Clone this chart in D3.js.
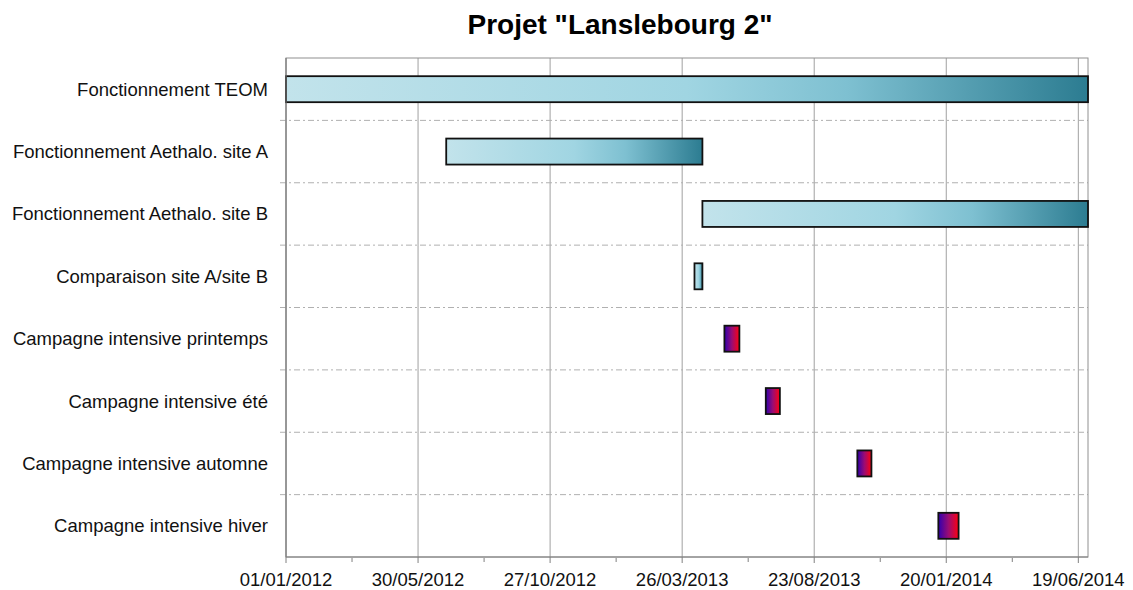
<!DOCTYPE html>
<html><head><meta charset="utf-8">
<script src="https://cdn.jsdelivr.net/npm/d3@7"></script>
<style>body{margin:0;background:#fff;}svg{display:block;font-family:"Liberation Sans",Arial,sans-serif;}</style>
</head><body><svg id="c" width="1133" height="590"></svg>
<script>
const title = 'Projet "Lanslebourg 2"';
const categories = ["Fonctionnement TEOM","Fonctionnement Aethalo. site A","Fonctionnement Aethalo. site B","Comparaison site A/site B","Campagne intensive printemps","Campagne intensive été","Campagne intensive automne","Campagne intensive hiver"];
const startDates = ["01/01/2012","01/07/2012","18/04/2013","09/04/2013","13/05/2013","29/06/2013","11/10/2013","11/01/2014"];
const endDates   = ["30/06/2014","18/04/2013","30/06/2014","18/04/2013","30/05/2013","15/07/2013","27/10/2013","03/02/2014"];
const palette    = ["blue","blue","blue","blue","red","red","red","red"];
const tickLabels = ["01/01/2012","30/05/2012","27/10/2012","26/03/2013","23/08/2013","20/01/2014","19/06/2014"];
const axisMin = "01/01/2012", axisMax = "30/06/2014";

const parse = d3.timeParse("%d/%m/%Y");
const svg = d3.select("#c");
const L=286, R=1088, T=58, B=557;

const x = d3.scaleTime().domain([parse(axisMin), parse(axisMax)]).range([L, R]);
const y = d3.scaleBand().domain(categories).range([T, B]).paddingInner(0).paddingOuter(0);

const defs = svg.append("defs");
const gb = defs.append("linearGradient").attr("id","gblue");
[[0,"#c2e3eb"],[0.5,"#a0d5e2"],[0.7,"#7ec0d1"],[1,"#2c7c91"]].forEach(s=>gb.append("stop").attr("offset",s[0]).attr("stop-color",s[1]));
const gr = defs.append("linearGradient").attr("id","gred");
[[0,"#3000b0"],[0.5,"#9a0c74"],[1,"#ff0010"]].forEach(s=>gr.append("stop").attr("offset",s[0]).attr("stop-color",s[1]));

// title
svg.append("text").attr("x",620).attr("y",34).attr("text-anchor","middle")
  .attr("font-size",28).attr("font-weight","bold").attr("fill","#000").text(title);

// vertical gridlines
const majors = tickLabels.map(parse);
svg.append("g").selectAll("line").data(majors).join("line")
  .attr("x1",d=>x(d)).attr("x2",d=>x(d)).attr("y1",T).attr("y2",B)
  .attr("stroke","#a0a0a0").attr("stroke-width",1);

// horizontal dash-dot separators
const seps = categories.slice(1).map(c=>y(c));
svg.append("g").selectAll("line").data(seps).join("line")
  .attr("x1",L-6).attr("x2",R).attr("y1",d=>d).attr("y2",d=>d)
  .attr("stroke","#b0b0b0").attr("stroke-width",1).attr("stroke-dasharray","6,3,2,3");

// plot frame
svg.append("rect").attr("x",L).attr("y",T).attr("width",R-L).attr("height",B-T)
  .attr("fill","none").attr("stroke","#909090").attr("stroke-width",1);

// bars
const bh = 26;
const rows = categories.map((c,i)=>({c, s:parse(startDates[i]), e:parse(endDates[i]), p:palette[i]}));
svg.append("g").selectAll("rect").data(rows).join("rect")
  .attr("x",d=>x(d.s)).attr("width",d=>x(d.e)-x(d.s))
  .attr("y",d=>y(d.c)+y.bandwidth()/2-bh/2).attr("height",bh)
  .attr("fill",d=>d.p==="blue"?"url(#gblue)":"url(#gred)")
  .attr("stroke","#111").attr("stroke-width",1.8);

// bottom axis
const minors = majors.slice(0,-1).map((d,i)=>new Date((+d + +majors[i+1])/2));
const ax = svg.append("g").attr("transform",`translate(0,${B})`);
ax.append("line").attr("x1",L).attr("x2",R).attr("stroke","#808080");
ax.selectAll(".mj").data(majors).join("line").attr("class","mj")
  .attr("x1",d=>x(d)).attr("x2",d=>x(d)).attr("y1",0).attr("y2",6).attr("stroke","#808080");
ax.selectAll(".mn").data(minors).join("line").attr("class","mn")
  .attr("x1",d=>x(d)).attr("x2",d=>x(d)).attr("y1",1).attr("y2",5).attr("stroke","#808080");
ax.selectAll("text").data(majors).join("text")
  .attr("x",d=>x(d)).attr("y",29).attr("text-anchor","middle")
  .attr("font-size",18.5).attr("fill","#111").text((d,i)=>tickLabels[i]);

// left axis line + labels
svg.append("line").attr("x1",L).attr("x2",L).attr("y1",T).attr("y2",B).attr("stroke","#808080");
svg.append("g").selectAll("text").data(categories).join("text")
  .attr("x",268).attr("y",d=>y(d)+y.bandwidth()/2).attr("dy","0.35em")
  .attr("text-anchor","end").attr("font-size",18.5).attr("fill","#111").text(d=>d);
</script></body></html>
